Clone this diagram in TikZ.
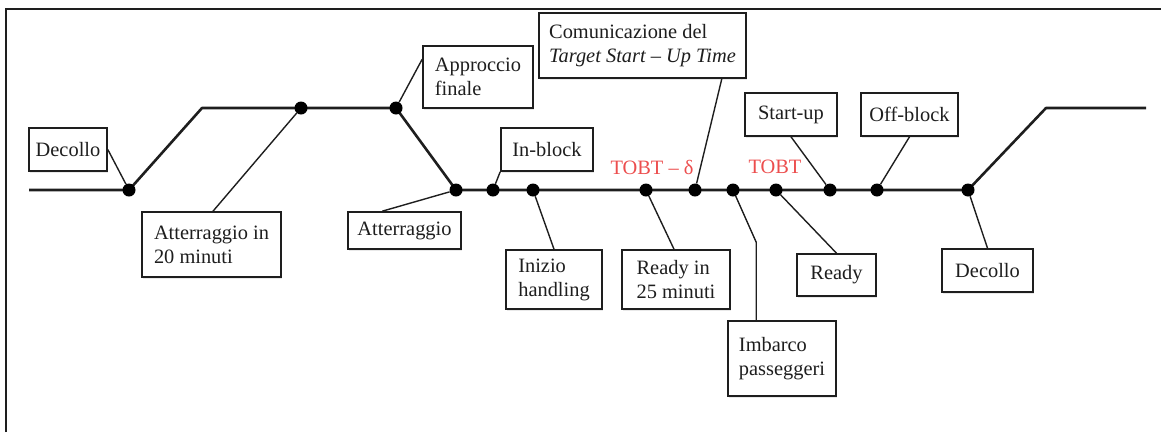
\documentclass[tikz,border=0pt]{standalone}
\usepackage{fontspec}
\setmainfont{Liberation Serif}
\usepackage{tikz}
\usetikzlibrary{positioning,shapes,shadows,calc}
\pgfdeclarelayer{background}
\pgfsetlayers{background,main}
\definecolor{ink}{RGB}{30,30,30}
\definecolor{tobtred}{RGB}{236,78,78}
\tikzset{
  evt/.style={draw=ink, line width=1.6pt, rectangle, fill=white, align=left, text=ink,
    font=\fontsize{20.4}{24}\selectfont, inner sep=4pt,
    drop shadow={opacity=0.18, shadow xshift=1pt, shadow yshift=-2pt}},
  pt/.style={circle, fill=black, inner sep=0pt, minimum size=13pt},
  lnk/.style={draw=ink, line width=1.4pt},
  tobt/.style={text=tobtred, font=\fontsize{20.4}{24}\selectfont, inner sep=0pt}
}

\begin{document}
\begin{tikzpicture}[x=1pt,y=-1pt]
    \useasboundingbox (0,0) rectangle (1161,432);
    \draw[ink, line width=2pt] (6,432) -- (6,9) -- (1161,9);
    % events along the flight
    \node[pt](pdecollo) at (129,190){};
    \node[pt](patt20) at (301,108){};
    \node[pt](pappr) at (396,108){};
    \node[pt](patt) at (456,190){};
    \node[pt](pinblock) at (493,190){};
    \node[pt](pinizio) at (533,190){};
    \node[pt](pready25) at (646,190){};
    \node[pt](pcomunic) at (695,190){};
    \node[pt](pimbarco) at (733,190){};
    \node[pt](ptobt) at (776,190){};
    \node[pt](pstartup) at (830,190){};
    \node[pt](poffblock) at (877,190){};
    \node[pt](pdecollo2) at (968,190){};
    \coordinate (inizio) at (29,190);
    \coordinate (salita) at (202,108);
    \coordinate (salita2) at (1046,108);
    \coordinate (fine) at (1146,108);
    \begin{pgfonlayer}{background}
        \draw[ink, line width=2.6pt, line join=round](inizio)--(pdecollo.center)--(salita)--(pappr.center)--(patt.center)--(pdecollo2.center)--(salita2)--(fine);
    \end{pgfonlayer}
    \node[tobt](tobtd) at (652,167){TOBT – δ};
    \node[tobt](tobtl) at (775,167){TOBT};
    % boxes above the line
    \node[evt, minimum width=78pt, minimum height=43pt](decollo) at (68,149.5){Decollo};
    \draw[lnk](decollo.east)--(pdecollo);
    \node[evt, minimum width=110pt, minimum height=62pt](approccio) at (478,77){Approccio\\finale};
    \draw[lnk]($(approccio.north west)+(0,14)$)--(pappr);
    \node[evt, minimum width=92pt, minimum height=43pt](inblock) at (547,149.5){In-block};
    \draw[lnk](inblock.south west)--(pinblock);
    \node[evt, minimum width=207pt, minimum height=65pt](comunic) at (642.5,45.5){Comunicazione del\\\textit{Target Start – Up Time}};
    \draw[lnk]($(comunic.south east)+(-25,0)$)--(pcomunic);
    \node[evt, minimum width=92pt, minimum height=43pt](startup) at (791,114.5){Start-up};
    \draw[lnk](startup.south)--(pstartup);
    \node[evt, minimum width=97pt, minimum height=43pt](offblock) at (909.5,114.5){Off-block};
    \draw[lnk](offblock.south)--(poffblock);
    % boxes below the line
    \node[evt, minimum width=139pt, minimum height=65pt](atterr20) at (211.5,244.5){Atterraggio in\\20 minuti};
    \draw[lnk]($(atterr20.north)+(1.5,0)$)--(patt20);
    \node[evt, minimum width=113pt, minimum height=37pt](atterr) at (404.5,230.5){Atterraggio};
    \draw[lnk]($(atterr.north west)+(35,0)$)--(patt);
    \node[evt, minimum width=96pt, minimum height=59pt](inizioh) at (554,279.5){Inizio\\handling};
    \draw[lnk](inizioh.north)--(pinizio);
    \node[evt, minimum width=108pt, minimum height=59pt](ready25) at (676,279.5){Ready in\\25 minuti};
    \draw[lnk]($(ready25.north)+(-2,0)$)--(pready25);
    \node[evt, minimum width=108pt, minimum height=75pt](imbarco) at (782,358.5){Imbarco\\passeggeri};
    \draw[lnk](pimbarco)--($(imbarco.north west)+(29,-78)$)--($(imbarco.north west)+(29,0)$);
    \node[evt, minimum width=79pt, minimum height=42pt](ready) at (836.5,275){Ready};
    \draw[lnk](ready.north)--(ptobt);
    \node[evt, minimum width=91pt, minimum height=43pt](decollo2) at (987.5,270.5){Decollo};
    \draw[lnk](decollo2.north)--(pdecollo2);
\end{tikzpicture}
\end{document}
